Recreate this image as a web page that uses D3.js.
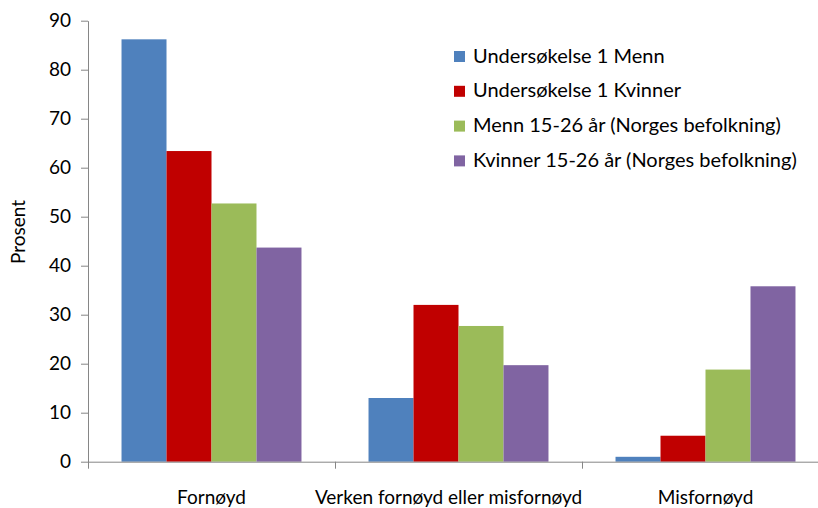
<!DOCTYPE html>
<html>
<head>
<meta charset="utf-8">
<script src="https://cdn.jsdelivr.net/npm/d3@7"></script>
<style>
  body { margin: 0; background: #fff; }
  svg { display: block; }
</style>
</head>
<body>
<svg id="chart"></svg>
<script>
// data
const categories = ["Fornøyd", "Verken fornøyd eller misfornøyd", "Misfornøyd"];
const seriesNames = [
  "Undersøkelse 1 Menn",
  "Undersøkelse 1 Kvinner",
  "Menn 15-26 år (Norges befolkning)",
  "Kvinner 15-26 år (Norges befolkning)"
];
const menn1 = [86.2, 13.0, 1.0];
const kvinner1 = [63.4, 32.0, 5.3];
const mennNorge = [52.7, 27.7, 18.8];
const kvinnerNorge = [43.7, 19.7, 35.8];
const yTicks = [0, 10, 20, 30, 40, 50, 60, 70, 80, 90];
const colors = ["#4F81BD", "#C00000", "#9BBB59", "#8064A2"];

const series = [menn1, kvinner1, mennNorge, kvinnerNorge];

const width = 818, height = 508;
const font = "Lato, 'Open Sans', sans-serif";

const svg = d3.select("#chart")
  .attr("width", width)
  .attr("height", height)
  .attr("viewBox", [0, 0, width, height]);

const x = d3.scaleBand()
  .domain(categories)
  .range([88, 829])
  .paddingInner(0)
  .paddingOuter(0);

const inner = d3.scaleBand()
  .domain(d3.range(series.length))
  .range([0, x.bandwidth()])
  .paddingOuter(0.745)
  .paddingInner(0);

const y = d3.scaleLinear()
  .domain([0, 90])
  .range([461.7, 20.7]);

// bars
const groups = svg.append("g")
  .selectAll("g")
  .data(categories)
  .join("g")
  .attr("transform", d => `translate(${x(d)},0)`);

groups.selectAll("rect")
  .data((c, i) => series.map((s, k) => ({k: k, v: s[i]})))
  .join("rect")
  .attr("x", d => inner(d.k))
  .attr("width", inner.bandwidth())
  .attr("y", d => y(d.v))
  .attr("height", d => y(0) - y(d.v))
  .attr("fill", d => colors[d.k]);

// y axis
const yAxis = svg.append("g")
  .attr("transform", "translate(88,0)")
  .call(d3.axisLeft(y).tickValues(yTicks).tickSize(7).tickPadding(10).tickSizeOuter(0));
yAxis.select(".domain").attr("stroke", "#868686");
yAxis.selectAll(".tick line").attr("stroke", "#868686");
yAxis.selectAll(".tick text")
  .attr("fill", "#000")
  .style("font-family", font)
  .style("font-size", "19px");

// x axis
const xAxis = svg.append("g")
  .attr("transform", `translate(0,${y(0)})`)
  .call(d3.axisBottom(x).tickSize(0).tickSizeOuter(0).tickFormat(""));
xAxis.select(".domain").attr("stroke", "#868686");
xAxis.selectAll(".tick").remove();

// category boundary ticks
svg.append("g")
  .selectAll("line")
  .data(categories)
  .join("line")
  .attr("x1", d => x(d) + 0.5)
  .attr("x2", d => x(d) + 0.5)
  .attr("y1", y(0))
  .attr("y2", y(0) + 7)
  .attr("stroke", "#868686");

// category labels
svg.append("g")
  .selectAll("text")
  .data(categories)
  .join("text")
  .attr("x", (d, i) => x(d) + x.bandwidth() / 2 - (i === 1 ? 10 : 0))
  .attr("y", 504)
  .attr("text-anchor", "middle")
  .style("font-family", font)
  .style("font-size", "19px")
  .text(d => d);

// y title
svg.append("text")
  .attr("transform", "translate(25,232) rotate(-90)")
  .attr("text-anchor", "middle")
  .style("font-family", font)
  .style("font-size", "19px")
  .text("Prosent");

// legend
const legend = svg.append("g")
  .attr("transform", "translate(454,56)")
  .selectAll("g")
  .data(seriesNames)
  .join("g")
  .attr("transform", (d, i) => `translate(0,${i * 34.8})`);

legend.append("rect")
  .attr("x", 0)
  .attr("y", -5)
  .attr("width", 11)
  .attr("height", 11)
  .attr("fill", (d, i) => colors[i]);

legend.append("text")
  .attr("x", 19)
  .attr("y", 6.5)
  .style("font-family", font)
  .style("font-size", "20px")
  .text(d => d);
</script>
</body>
</html>
